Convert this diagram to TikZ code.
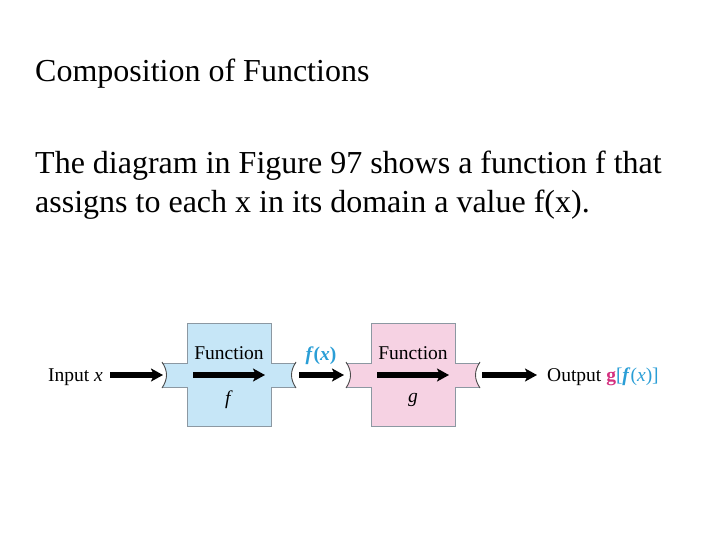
\documentclass[tikz,border=0pt]{standalone}
\usepackage{fontspec}
\setmainfont{Liberation Serif}
\usetikzlibrary{arrows.meta, positioning}
\definecolor{boxBlue}{HTML}{C6E6F7}
\definecolor{boxPink}{HTML}{F6D2E3}
\definecolor{edgeGray}{HTML}{8C98A2}
\definecolor{valBlue}{HTML}{2A9ED6}
\definecolor{valPink}{HTML}{D4307F}
\tikzset{
    slideText/.style={anchor=base west, inner sep=0pt, font=\fontsize{32}{38.4}\selectfont},
    figText/.style={inner sep=0pt, font=\fontsize{19.5}{23}\selectfont},
    machineEdge/.style={draw=edgeGray, line width=0.7pt},
    flowArrow/.style={-{Stealth[length=12pt, width=13pt, inset=3pt]}, line width=6pt, black},
}
\newcommand{\drawMachine}[4]{
    % #1 fill, #2 name, #3 centre x, #4 label under the arrow
    \fill[#1] (#3-42,323) -- (#3+42,323) -- (#3+42,363) -- (#3+67,363)
        .. controls (#3+61,371) and (#3+61,379) .. (#3+67,387) -- (#3+42,387)
        -- (#3+42,426) -- (#3-42,426) -- (#3-42,387) -- (#3-67,387)
        .. controls (#3-61,379) and (#3-61,371) .. (#3-67,363) -- (#3-42,363) -- cycle;
    \draw[machineEdge] (#3-67,363) -- (#3-42,363) -- (#3-42,323) -- (#3+42,323)
        -- (#3+42,363) -- (#3+67,363);
    \draw[machineEdge] (#3-67,387) -- (#3-42,387) -- (#3-42,426) -- (#3+42,426)
        -- (#3+42,387) -- (#3+67,387);
    % pipe ends
    \draw[black!70, line width=0.9pt] (#3-67,362) .. controls (#3-61,371) and (#3-61,379) .. (#3-67,388);
    \draw[black!70, line width=0.9pt] (#3+67,362) .. controls (#3+61,371) and (#3+61,379) .. (#3+67,388);
    \coordinate (#2In) at (#3-66,375);
    \coordinate (#2Out) at (#3+67,375);
    \coordinate (#2L) at (#3-36,375);
    \coordinate (#2R) at (#3+36,375);
    \node[figText] (#2Title) at (#3,353) {Function};
    \node[figText] (#2Name) at (#3,400) {\textit{#4}};
}

\begin{document}
\begin{tikzpicture}[x=1pt, y=-1pt]
    \useasboundingbox (0,0) rectangle (720,540);

    \node[slideText] (title) at (35,82) {Composition of Functions};
    \node[slideText, align=left] (body) at (35,212) {The diagram in Figure 97 shows a function f that\\assigns to each x in its domain a value f(x).};

    \drawMachine{boxBlue}{f}{229}{f}
    \drawMachine{boxPink}{g}{413}{g}

    \node[figText, anchor=east] (input) at (103,377) {Input \textit{x}};
    \node[figText, text=valBlue] (fx) at (321,356) {\textbf{\textit{f}(\textit{x})}};
    \node[figText, anchor=west] (output) at (547,377) {Output \textcolor{valPink}{\textbf{g}}\textcolor{valBlue}{[\textbf{\textit{f}}(\textit{x})]}};

    \coordinate (inStart) at (110,375);
    \coordinate (outEnd) at (537,375);
    \draw[flowArrow] (inStart) -- (fIn);
    \draw[flowArrow] (fL) -- (fR);
    \draw[flowArrow] ([xshift=3pt]fOut) -- ([xshift=-3pt]gIn);
    \draw[flowArrow] (gL) -- (gR);
    \draw[flowArrow] ([xshift=2pt]gOut) -- (outEnd);

\end{tikzpicture}
\end{document}
